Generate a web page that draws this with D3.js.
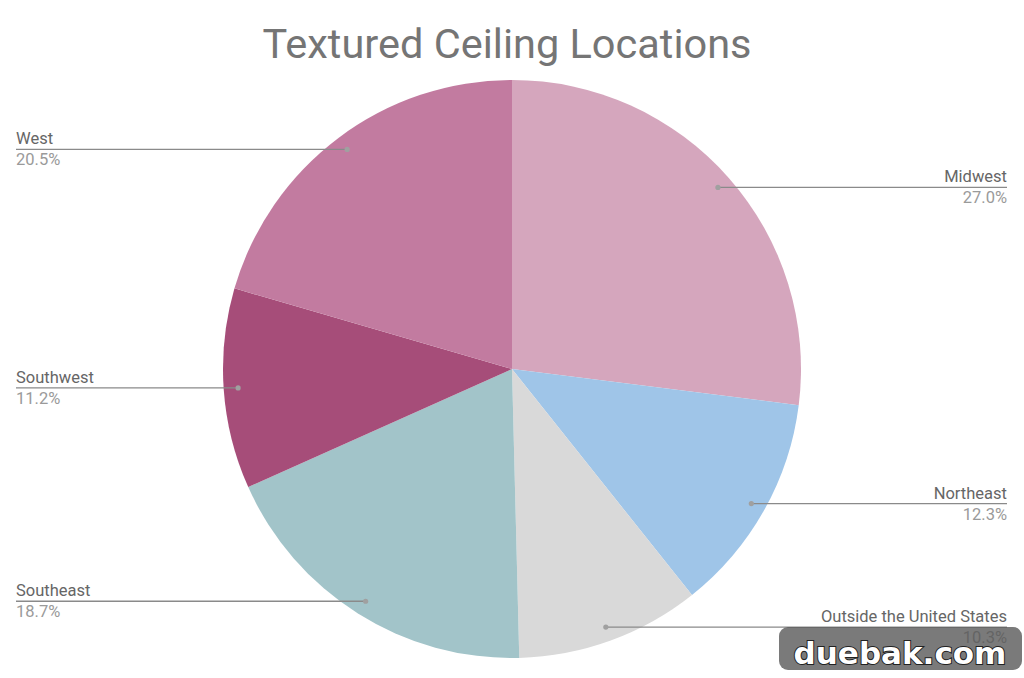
<!DOCTYPE html>
<html><head><meta charset="utf-8">
<script src="https://cdn.jsdelivr.net/npm/d3@7"></script>
<style>body{margin:0;background:#fff}svg{display:block}</style>
</head><body>
<script>
const categories = ["Midwest","Northeast","Outside the United States","Southeast","Southwest","West"];
const values = [27.0, 12.3, 10.3, 18.7, 11.2, 20.5];
const colors = ["#d5a6bd","#9fc5e8","#d9d9d9","#a2c4c9","#a64d79","#c27ba0"];
const title = "Textured Ceiling Locations";

const W=1024,H=678, cx=512, cy=369, R=289;
const svg=d3.select("body").append("svg").attr("width",W).attr("height",H);
svg.append("rect").attr("width",W).attr("height",H).attr("fill","#fff");
svg.append("text").attr("x",507).attr("y",58).attr("text-anchor","middle")
  .attr("font-family","Roboto").attr("font-size",41.5).attr("fill","#757575").text(title);

const data=categories.map((c,i)=>({c,v:values[i],col:colors[i]}));
const pie=d3.pie().value(d=>d.v).sort(null);
const arcs=pie(data);
const arc=d3.arc().innerRadius(0).outerRadius(R);
const g=svg.append("g").attr("transform",`translate(${cx},${cy})`);
g.selectAll("path").data(arcs).join("path").attr("d",arc).attr("fill",d=>d.data.col);

const rDot=R*0.95;
arcs.forEach(a=>{
  const m=(a.startAngle+a.endAngle)/2;
  const x=cx+rDot*Math.sin(m), y=cy-rDot*Math.cos(m);
  const right=Math.sin(m)>0;
  const xe=right?1007:16;
  svg.append("line").attr("x1",x).attr("y1",y).attr("x2",xe).attr("y2",y)
    .attr("stroke","#8a8a8a").attr("stroke-width",1.3);
  svg.append("circle").attr("cx",x).attr("cy",y).attr("r",2.6).attr("fill","#a0a0a0");
  svg.append("text").attr("x",xe).attr("y",y-5).attr("text-anchor",right?"end":"start")
    .attr("font-family","Roboto").attr("font-size",16.5).attr("fill","#666").text(a.data.c);
  svg.append("text").attr("x",xe).attr("y",y+16).attr("text-anchor",right?"end":"start")
    .attr("font-family","Roboto").attr("font-size",16.5).attr("fill","#9a9a9a").text(a.data.v.toFixed(1)+"%");
});

// watermark
svg.append("rect").attr("x",779).attr("y",627).attr("width",243).attr("height",43).attr("rx",9)
  .attr("fill","rgba(85,85,85,0.78)");
svg.append("text").attr("x",900).attr("y",664).attr("text-anchor","middle")
  .attr("font-family","DejaVu Sans").attr("font-weight","bold").attr("font-size",31)
  .attr("fill","#fff").attr("stroke","#222").attr("stroke-width",2).attr("paint-order","stroke")
  .text("duebak.com");
</script>
</body></html>
